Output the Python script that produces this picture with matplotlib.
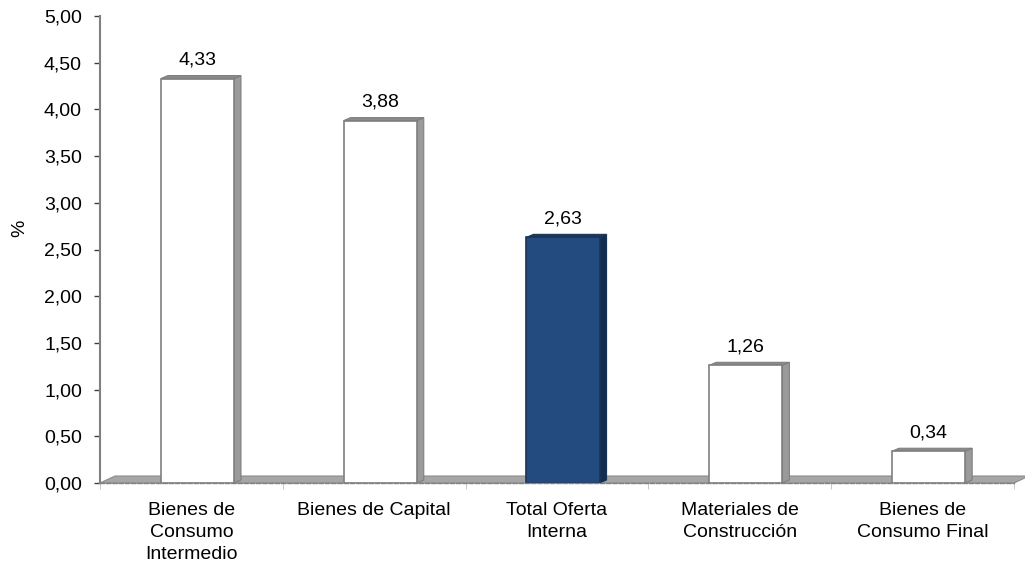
import matplotlib.pyplot as plt
from matplotlib.patches import Polygon, Rectangle
from matplotlib.ticker import FuncFormatter, MultipleLocator

categories = [
    "Bienes de\nConsumo\nIntermedio",
    "Bienes de Capital",
    "Total Oferta\nInterna",
    "Materiales de\nConstrucción",
    "Bienes de\nConsumo Final",
]
values = [4.33, 3.88, 2.63, 1.26, 0.34]
highlight = [False, False, True, False, False]

plt.rcParams["font.family"] = ["Liberation Sans", "DejaVu Sans"]
plt.rcParams["font.size"] = 14

W, H = 1025, 562
fig = plt.figure(figsize=(W / 100, H / 100), dpi=100)
left, right, bottom, top = 100, 1014, 483, 16
ax = fig.add_axes([left / W, (H - bottom) / H, (right - left) / W, (bottom - top) / H])

xmin, xmax = -0.5, len(categories) - 0.5
ymin, ymax = 0, 5
ax.set_xlim(xmin, xmax)
ax.set_ylim(ymin, ymax)

# pixel -> data units
px_x = (xmax - xmin) / (right - left)
px_y = (ymax - ymin) / (bottom - top)


def fmt(v):
    return f"{v:.2f}".replace(".", ",")


# floor of the 3d chart
fdx, fdy = 15 * px_x, 7 * px_y
floor = Polygon(
    [(xmin, 0), (xmax, 0), (xmax + fdx, fdy), (xmin + fdx, fdy)],
    closed=True, facecolor="#a6a6a6", edgecolor="#8c8c8c", lw=0.8,
    zorder=1, clip_on=False,
)
ax.add_patch(floor)

bw = 0.4
shift = 6 * px_x
dx, dy = 7 * px_x, 3 * px_y
for i, (v, hl) in enumerate(zip(values, highlight)):
    if hl:
        front, side, topc, edge = "#244b7f", "#142c4d", "#1b385f", "#1a3456"
    else:
        front, side, topc, edge = "white", "#9a9a9a", "#8a8a8a", "#7f7f7f"
    x0 = i + shift - bw / 2
    x1 = x0 + bw
    ax.add_patch(Polygon([(x1, 0), (x1 + dx, dy), (x1 + dx, v + dy), (x1, v)],
                         closed=True, facecolor=side, edgecolor=edge, lw=0.8, zorder=3))
    ax.add_patch(Polygon([(x0, v), (x1, v), (x1 + dx, v + dy), (x0 + dx, v + dy)],
                         closed=True, facecolor=topc, edgecolor=edge, lw=0.8, zorder=3))
    ax.add_patch(Rectangle((x0, 0), bw, v, facecolor=front, edgecolor=edge, lw=1.2, zorder=4))
    ax.annotate(fmt(v), (i + shift, v), xytext=(0, 14), textcoords="offset pixels",
                ha="center", va="baseline", fontsize=14, color="black")

# axes styling
for s in ["top", "right"]:
    ax.spines[s].set_visible(False)
ax.spines["left"].set_color("#808080")
ax.spines["left"].set_linewidth(1.5)
ax.spines["bottom"].set_color("#808080")
ax.spines["bottom"].set_linestyle((0, (3, 1.5)))
ax.spines["bottom"].set_linewidth(1.0)
ax.spines["bottom"].set_zorder(5)

ax.yaxis.set_major_locator(MultipleLocator(0.5))
ax.yaxis.set_major_formatter(FuncFormatter(lambda v, p: fmt(v)))
ax.tick_params(axis="y", length=4, width=1, color="#404040", pad=9, labelsize=14)

ax.set_xticks(range(len(categories)))
ax.set_xticklabels(categories, linespacing=1.36)
ax.set_xticks([k - 0.5 for k in range(len(categories) + 1)], minor=True)
ax.tick_params(axis="x", which="major", length=0, pad=14, labelsize=14)
ax.tick_params(axis="x", which="minor", length=4, color="#c0c0c0")

ax.set_ylabel("%", fontsize=14)
ax.yaxis.set_label_coords((28 - left) / (right - left), (bottom - 228) / (bottom - top))

fig.savefig("out.png", dpi=100)
